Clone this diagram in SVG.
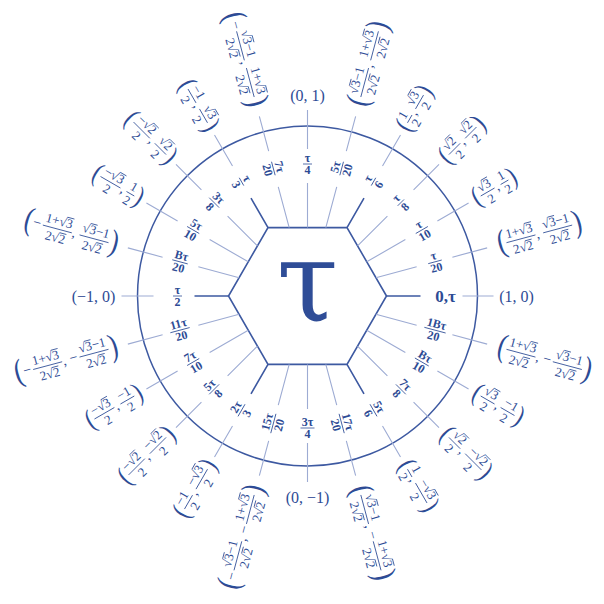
<svg xmlns="http://www.w3.org/2000/svg" width="604" height="604" viewBox="0 0 604 604">
<style>
.t{font-family:"Liberation Serif","DejaVu Serif",serif;fill:#2d4b95}
.o{font-size:13px;text-anchor:middle}
.i{font-size:12px;font-weight:bold;text-anchor:middle}
.a{font-size:16px;text-anchor:middle}
.pb{font-size:26px}
.ps{font-size:22px}
.cm{font-size:14px}
.mn{font-size:14px}
.b{stroke:#2d4b95;stroke-width:0.8;fill:none}
.ln{stroke:#9dabd3;stroke-width:1.1;fill:none}
.dk{stroke:#3d59a1;stroke-width:1.6;fill:none}
</style>
<rect width="604" height="604" fill="#ffffff"/>
<g id="circle"><circle cx="307.5" cy="296" r="170" fill="none" stroke="#3d59a1" stroke-width="1.5"/></g>
<g id="hexagon">
<polygon points="386.5,296 347,227.6 268,227.6 228.5,296 268,364.4 347,364.4" fill="none" stroke="#3d59a1" stroke-width="1.6"/>
<text x="307.5" y="321" font-family="DejaVu Serif,serif" font-size="112" fill="#2f4d97" text-anchor="middle">τ</text>
</g>
<g id="connectors">
<path class="dk" d="M386.5 296L420.5 296M347 227.6L364 198.14M268 227.6L251 198.14M228.5 296L194.5 296M268 364.4L251 393.86M347 364.4L364 393.86"/>
<path class="ln" d="M375.89 277.68L416.65 266.76M366.74 261.8L405.36 239.5M357.56 245.94L387.4 216.1M325.82 227.61L336.74 186.85M307.5 227.6L307.5 183M289.18 227.61L278.26 186.85M257.44 245.94L227.6 216.1M248.26 261.8L209.64 239.5M239.11 277.68L198.35 266.76M239.11 314.32L198.35 325.24M248.26 330.2L209.64 352.5M257.44 346.06L227.6 375.9M289.18 364.39L278.26 405.15M307.5 364.4L307.5 409M325.82 364.39L336.74 405.15M357.56 346.06L387.4 375.9M366.74 330.2L405.36 352.5M375.89 314.32L416.65 325.24"/>
<path class="ln" d="M462.5 296L493.5 296M452.39 257.18L487.16 247.86M437.4 221L468.58 203M413.57 189.93L439.02 164.48M382.5 166.1L400.5 134.92M346.32 151.11L355.64 116.34M307.5 149L307.5 110M268.68 151.11L259.36 116.34M232.5 166.1L214.5 134.92M201.43 189.93L175.98 164.48M177.6 221L146.42 203M162.61 257.18L127.84 247.86M153.5 296L121.5 296M162.61 334.82L127.84 344.14M177.6 371L146.42 389M201.43 402.07L175.98 427.52M232.5 425.9L214.5 457.08M268.68 440.89L259.36 475.66M307.5 443L307.5 482M346.32 440.89L355.64 475.66M382.5 425.9L400.5 457.08M413.57 402.07L439.02 427.52M437.4 371L468.58 389M452.39 334.82L487.16 344.14"/>
</g>
<g id="a0">
<text class="t" x="445.5" y="302" font-size="17" font-weight="bold" text-anchor="middle">0,τ</text>
<text class="t a" x="516.5" y="301.5">(1, 0)</text>
</g>
<g id="a15">
<g transform="translate(435,261.84) rotate(-15)"><text class="t i" y="-2.5">τ</text><path class="b" d="M-7 0H7"/><text class="t i" y="10">20</text></g>
<g transform="translate(539.32,233.89) rotate(-15)"><text class="t pb" transform="translate(-43,8.1) scale(1,1.25)">(</text><text class="t o" x="-19" y="-4">1+√3</text><text class="t o" x="-19" y="13">2√2</text><text class="t cm" x="-3.5" y="4">,</text><text class="t o" x="19" y="-4">√3−1</text><text class="t o" x="19" y="13">2√2</text><text class="t pb" transform="translate(35,8.1) scale(1,1.25)">)</text><path class="b" d="M-34 0H-4M4 0H34M-12 -14H-5M-15.5 3H-8.8M12.3 -14H19M22.5 3H29.2"/></g>
</g>
<g id="a30">
<g transform="translate(421.81,230) rotate(-30)"><text class="t i" y="-2.5">τ</text><path class="b" d="M-7 0H7"/><text class="t i" y="10">10</text></g>
<g transform="translate(494.56,188) rotate(-30)"><text class="t ps" transform="translate(-24,6.9) scale(1,1.25)">(</text><text class="t o" x="-8" y="-3.5">√3</text><text class="t o" x="-8" y="12">2</text><text class="t cm" x="1" y="4">,</text><text class="t o" x="11.5" y="-3.5">1</text><text class="t o" x="11.5" y="12">2</text><text class="t ps" transform="translate(17,6.9) scale(1,1.25)">)</text><path class="b" d="M-16 0H0M7 0H16M-7.8 -13.5H-1"/></g>
</g>
<g id="a45">
<g transform="translate(400.84,202.66) rotate(-45)"><text class="t i" y="-2.5">τ</text><path class="b" d="M-4.5 0H4.5"/><text class="t i" y="10">8</text></g>
<g transform="translate(462.71,140.79) rotate(-45)"><text class="t ps" transform="translate(-27.5,6.9) scale(1,1.25)">(</text><text class="t o" x="-11.5" y="-3.5">√2</text><text class="t o" x="-11.5" y="12">2</text><text class="t cm" x="-2.5" y="4">,</text><text class="t o" x="11.5" y="-3.5">√2</text><text class="t o" x="11.5" y="12">2</text><text class="t ps" transform="translate(20.5,6.9) scale(1,1.25)">)</text><path class="b" d="M-19.5 0H-3.5M3.5 0H19.5M-11.3 -13.5H-4.5M11.7 -13.5H18.5"/></g>
</g>
<g id="a60">
<g transform="translate(373.5,181.69) rotate(-60)"><text class="t i" y="-2.5">τ</text><path class="b" d="M-4.5 0H4.5"/><text class="t i" y="10">6</text></g>
<g transform="translate(415.5,108.94) rotate(-60)"><text class="t ps" transform="translate(-24,6.9) scale(1,1.25)">(</text><text class="t o" x="-11.5" y="-3.5">1</text><text class="t o" x="-11.5" y="12">2</text><text class="t cm" x="-6" y="4">,</text><text class="t o" x="8" y="-3.5">√3</text><text class="t o" x="8" y="12">2</text><text class="t ps" transform="translate(17,6.9) scale(1,1.25)">)</text><path class="b" d="M-16 0H-7M0 0H16M8.2 -13.5H15"/></g>
</g>
<g id="a75">
<g transform="translate(341.66,168.5) rotate(-75)"><text class="t i" y="-2.5">5τ</text><path class="b" d="M-7 0H7"/><text class="t i" y="10">20</text></g>
<g transform="translate(369.61,64.18) rotate(-75)"><text class="t pb" transform="translate(-43,8.1) scale(1,1.25)">(</text><text class="t o" x="-19" y="-4">√3−1</text><text class="t o" x="-19" y="13">2√2</text><text class="t cm" x="-3.5" y="4">,</text><text class="t o" x="19" y="-4">1+√3</text><text class="t o" x="19" y="13">2√2</text><text class="t pb" transform="translate(35,8.1) scale(1,1.25)">)</text><path class="b" d="M-34 0H-4M4 0H34M-25.7 -14H-19M-15.5 3H-8.8M26 -14H33M22.5 3H29.2"/></g>
</g>
<g id="a90">
<g transform="translate(307.5,164)"><text class="t i" y="-2.5">τ</text><path class="b" d="M-4.5 0H4.5"/><text class="t i" y="10">4</text></g>
<text class="t a" x="307.5" y="100.5">(0, 1)</text>
</g>
<g id="a105">
<g transform="translate(273.34,168.5) rotate(75)"><text class="t i" y="-2.5">7τ</text><path class="b" d="M-7 0H7"/><text class="t i" y="10">20</text></g>
<g transform="translate(244.09,59.35) rotate(75)"><text class="t pb" transform="translate(-48,8.1) scale(1,1.25)">(</text><text class="t mn" x="-39" y="3.5">−</text><text class="t o" x="-14" y="-4">√3−1</text><text class="t o" x="-14" y="13">2√2</text><text class="t cm" x="1.5" y="4">,</text><text class="t o" x="24" y="-4">1+√3</text><text class="t o" x="24" y="13">2√2</text><text class="t pb" transform="translate(40,8.1) scale(1,1.25)">)</text><path class="b" d="M-29 0H1M9 0H39M-20.7 -14H-14M-10.5 3H-3.8M31 -14H38M27.5 3H34.2"/></g>
</g>
<g id="a120">
<g transform="translate(241.5,181.69) rotate(60)"><text class="t i" y="-2.5">τ</text><path class="b" d="M-4.5 0H4.5"/><text class="t i" y="10">3</text></g>
<g transform="translate(197.75,105.91) rotate(60)"><text class="t ps" transform="translate(-27.5,6.9) scale(1,1.25)">(</text><text class="t o" x="-11.5" y="-3.5">−1</text><text class="t o" x="-11.5" y="12">2</text><text class="t cm" x="-2.5" y="4">,</text><text class="t o" x="11.5" y="-3.5">√3</text><text class="t o" x="11.5" y="12">2</text><text class="t ps" transform="translate(20.5,6.9) scale(1,1.25)">)</text><path class="b" d="M-19.5 0H-3.5M3.5 0H19.5M11.7 -13.5H18.5"/></g>
</g>
<g id="a135">
<g transform="translate(214.16,202.66) rotate(45)"><text class="t i" y="-2.5">3τ</text><path class="b" d="M-7 0H7"/><text class="t i" y="10">8</text></g>
<g transform="translate(149.82,138.32) rotate(45)"><text class="t ps" transform="translate(-31,6.9) scale(1,1.25)">(</text><text class="t o" x="-11.5" y="-3.5">−√2</text><text class="t o" x="-11.5" y="12">2</text><text class="t cm" x="1" y="4">,</text><text class="t o" x="15" y="-3.5">√2</text><text class="t o" x="15" y="12">2</text><text class="t ps" transform="translate(24,6.9) scale(1,1.25)">)</text><path class="b" d="M-23 0H0M7 0H23M-7.7 -13.5H-0.8M15.2 -13.5H22"/></g>
</g>
<g id="a150">
<g transform="translate(193.19,230) rotate(30)"><text class="t i" y="-2.5">5τ</text><path class="b" d="M-7 0H7"/><text class="t i" y="10">10</text></g>
<g transform="translate(117.41,186.25) rotate(30)"><text class="t ps" transform="translate(-27.5,6.9) scale(1,1.25)">(</text><text class="t o" x="-8" y="-3.5">−√3</text><text class="t o" x="-8" y="12">2</text><text class="t cm" x="4.5" y="4">,</text><text class="t o" x="15" y="-3.5">1</text><text class="t o" x="15" y="12">2</text><text class="t ps" transform="translate(20.5,6.9) scale(1,1.25)">)</text><path class="b" d="M-19.5 0H3.5M10.5 0H19.5M-4.2 -13.5H2.7"/></g>
</g>
<g id="a165">
<g transform="translate(180,261.84) rotate(15)"><text class="t i" y="-2.5">Bτ</text><path class="b" d="M-8 0H8"/><text class="t i" y="10">20</text></g>
<g transform="translate(70.85,232.59) rotate(15)"><text class="t pb" transform="translate(-48,8.1) scale(1,1.25)">(</text><text class="t mn" x="-39" y="3.5">−</text><text class="t o" x="-14" y="-4">1+√3</text><text class="t o" x="-14" y="13">2√2</text><text class="t cm" x="1.5" y="4">,</text><text class="t o" x="24" y="-4">√3−1</text><text class="t o" x="24" y="13">2√2</text><text class="t pb" transform="translate(40,8.1) scale(1,1.25)">)</text><path class="b" d="M-29 0H1M9 0H39M-7 -14H0M-10.5 3H-3.8M17.3 -14H24M27.5 3H34.2"/></g>
</g>
<g id="a180">
<g transform="translate(177.5,296)"><text class="t i" y="-2.5">τ</text><path class="b" d="M-4.5 0H4.5"/><text class="t i" y="10">2</text></g>
<text class="t a" x="93.5" y="301.5">(−1, 0)</text>
</g>
<g id="a195">
<g transform="translate(180,330.16) rotate(-15)"><text class="t i" y="-2.5">11τ</text><path class="b" d="M-10 0H10"/><text class="t i" y="10">20</text></g>
<g transform="translate(66.02,360.7) rotate(-15)"><text class="t pb" transform="translate(-53,8.1) scale(1,1.25)">(</text><text class="t mn" x="-44" y="3.5">−</text><text class="t o" x="-19" y="-4">1+√3</text><text class="t o" x="-19" y="13">2√2</text><text class="t cm" x="-3.5" y="4">,</text><text class="t mn" x="4" y="3.5">−</text><text class="t o" x="29" y="-4">√3−1</text><text class="t o" x="29" y="13">2√2</text><text class="t pb" transform="translate(45,8.1) scale(1,1.25)">)</text><path class="b" d="M-34 0H-4M14 0H44M-12 -14H-5M-15.5 3H-8.8M22.3 -14H29M32.5 3H39.2"/></g>
</g>
<g id="a210">
<g transform="translate(193.19,362) rotate(-30)"><text class="t i" y="-2.5">7τ</text><path class="b" d="M-7 0H7"/><text class="t i" y="10">10</text></g>
<g transform="translate(114.38,407.5) rotate(-30)"><text class="t ps" transform="translate(-31,6.9) scale(1,1.25)">(</text><text class="t o" x="-11.5" y="-3.5">−√3</text><text class="t o" x="-11.5" y="12">2</text><text class="t cm" x="1" y="4">,</text><text class="t o" x="15" y="-3.5">−1</text><text class="t o" x="15" y="12">2</text><text class="t ps" transform="translate(24,6.9) scale(1,1.25)">)</text><path class="b" d="M-23 0H0M7 0H23M-7.7 -13.5H-0.8"/></g>
</g>
<g id="a225">
<g transform="translate(214.16,389.34) rotate(-45)"><text class="t i" y="-2.5">5τ</text><path class="b" d="M-7 0H7"/><text class="t i" y="10">8</text></g>
<g transform="translate(147.34,456.16) rotate(-45)"><text class="t ps" transform="translate(-34.5,6.9) scale(1,1.25)">(</text><text class="t o" x="-15" y="-3.5">−√2</text><text class="t o" x="-15" y="12">2</text><text class="t cm" x="-2.5" y="4">,</text><text class="t o" x="15" y="-3.5">−√2</text><text class="t o" x="15" y="12">2</text><text class="t ps" transform="translate(27.5,6.9) scale(1,1.25)">)</text><path class="b" d="M-26.5 0H-3.5M3.5 0H26.5M-11.2 -13.5H-4.3M18.8 -13.5H25.7"/></g>
</g>
<g id="a240">
<g transform="translate(241.5,410.31) rotate(-60)"><text class="t i" y="-2.5">2τ</text><path class="b" d="M-7 0H7"/><text class="t i" y="10">3</text></g>
<g transform="translate(196,489.12) rotate(-60)"><text class="t ps" transform="translate(-31,6.9) scale(1,1.25)">(</text><text class="t o" x="-15" y="-3.5">−1</text><text class="t o" x="-15" y="12">2</text><text class="t cm" x="-6" y="4">,</text><text class="t o" x="11.5" y="-3.5">−√3</text><text class="t o" x="11.5" y="12">2</text><text class="t ps" transform="translate(24,6.9) scale(1,1.25)">)</text><path class="b" d="M-23 0H-7M0 0H23M15.3 -13.5H22.2"/></g>
</g>
<g id="a255">
<g transform="translate(273.34,423.5) rotate(-75)"><text class="t i" y="-2.5">15τ</text><path class="b" d="M-10 0H10"/><text class="t i" y="10">20</text></g>
<g transform="translate(242.8,537.48) rotate(-75)"><text class="t pb" transform="translate(-53,8.1) scale(1,1.25)">(</text><text class="t mn" x="-44" y="3.5">−</text><text class="t o" x="-19" y="-4">√3−1</text><text class="t o" x="-19" y="13">2√2</text><text class="t cm" x="-3.5" y="4">,</text><text class="t mn" x="4" y="3.5">−</text><text class="t o" x="29" y="-4">1+√3</text><text class="t o" x="29" y="13">2√2</text><text class="t pb" transform="translate(45,8.1) scale(1,1.25)">)</text><path class="b" d="M-34 0H-4M14 0H44M-25.7 -14H-19M-15.5 3H-8.8M36 -14H43M32.5 3H39.2"/></g>
</g>
<g id="a270">
<g transform="translate(307.5,428)"><text class="t i" y="-2.5">3τ</text><path class="b" d="M-7 0H7"/><text class="t i" y="10">4</text></g>
<text class="t a" x="307.5" y="502.5">(0, −1)</text>
</g>
<g id="a285">
<g transform="translate(341.66,423.5) rotate(75)"><text class="t i" y="-2.5">17τ</text><path class="b" d="M-10 0H10"/><text class="t i" y="10">20</text></g>
<g transform="translate(370.91,532.65) rotate(75)"><text class="t pb" transform="translate(-48,8.1) scale(1,1.25)">(</text><text class="t o" x="-24" y="-4">√3−1</text><text class="t o" x="-24" y="13">2√2</text><text class="t cm" x="-8.5" y="4">,</text><text class="t mn" x="-1" y="3.5">−</text><text class="t o" x="24" y="-4">1+√3</text><text class="t o" x="24" y="13">2√2</text><text class="t pb" transform="translate(40,8.1) scale(1,1.25)">)</text><path class="b" d="M-39 0H-9M9 0H39M-30.7 -14H-24M-20.5 3H-13.8M31 -14H38M27.5 3H34.2"/></g>
</g>
<g id="a300">
<g transform="translate(373.5,410.31) rotate(60)"><text class="t i" y="-2.5">5τ</text><path class="b" d="M-7 0H7"/><text class="t i" y="10">6</text></g>
<g transform="translate(417.25,486.09) rotate(60)"><text class="t ps" transform="translate(-27.5,6.9) scale(1,1.25)">(</text><text class="t o" x="-15" y="-3.5">1</text><text class="t o" x="-15" y="12">2</text><text class="t cm" x="-9.5" y="4">,</text><text class="t o" x="8" y="-3.5">−√3</text><text class="t o" x="8" y="12">2</text><text class="t ps" transform="translate(20.5,6.9) scale(1,1.25)">)</text><path class="b" d="M-19.5 0H-10.5M-3.5 0H19.5M11.8 -13.5H18.7"/></g>
</g>
<g id="a315">
<g transform="translate(400.84,389.34) rotate(45)"><text class="t i" y="-2.5">7τ</text><path class="b" d="M-7 0H7"/><text class="t i" y="10">8</text></g>
<g transform="translate(465.18,453.68) rotate(45)"><text class="t ps" transform="translate(-31,6.9) scale(1,1.25)">(</text><text class="t o" x="-15" y="-3.5">√2</text><text class="t o" x="-15" y="12">2</text><text class="t cm" x="-6" y="4">,</text><text class="t o" x="11.5" y="-3.5">−√2</text><text class="t o" x="11.5" y="12">2</text><text class="t ps" transform="translate(24,6.9) scale(1,1.25)">)</text><path class="b" d="M-23 0H-7M0 0H23M-14.8 -13.5H-8M15.3 -13.5H22.2"/></g>
</g>
<g id="a330">
<g transform="translate(421.81,362) rotate(30)"><text class="t i" y="-2.5">Bτ</text><path class="b" d="M-8 0H8"/><text class="t i" y="10">10</text></g>
<g transform="translate(497.59,405.75) rotate(30)"><text class="t ps" transform="translate(-27.5,6.9) scale(1,1.25)">(</text><text class="t o" x="-11.5" y="-3.5">√3</text><text class="t o" x="-11.5" y="12">2</text><text class="t cm" x="-2.5" y="4">,</text><text class="t o" x="11.5" y="-3.5">−1</text><text class="t o" x="11.5" y="12">2</text><text class="t ps" transform="translate(20.5,6.9) scale(1,1.25)">)</text><path class="b" d="M-19.5 0H-3.5M3.5 0H19.5M-11.3 -13.5H-4.5"/></g>
</g>
<g id="a345">
<g transform="translate(435,330.16) rotate(15)"><text class="t i" y="-2.5">1Bτ</text><path class="b" d="M-11 0H11"/><text class="t i" y="10">20</text></g>
<g transform="translate(544.15,359.41) rotate(15)"><text class="t pb" transform="translate(-48,8.1) scale(1,1.25)">(</text><text class="t o" x="-24" y="-4">1+√3</text><text class="t o" x="-24" y="13">2√2</text><text class="t cm" x="-8.5" y="4">,</text><text class="t mn" x="-1" y="3.5">−</text><text class="t o" x="24" y="-4">√3−1</text><text class="t o" x="24" y="13">2√2</text><text class="t pb" transform="translate(40,8.1) scale(1,1.25)">)</text><path class="b" d="M-39 0H-9M9 0H39M-17 -14H-10M-20.5 3H-13.8M17.3 -14H24M27.5 3H34.2"/></g>
</g>
</svg>
